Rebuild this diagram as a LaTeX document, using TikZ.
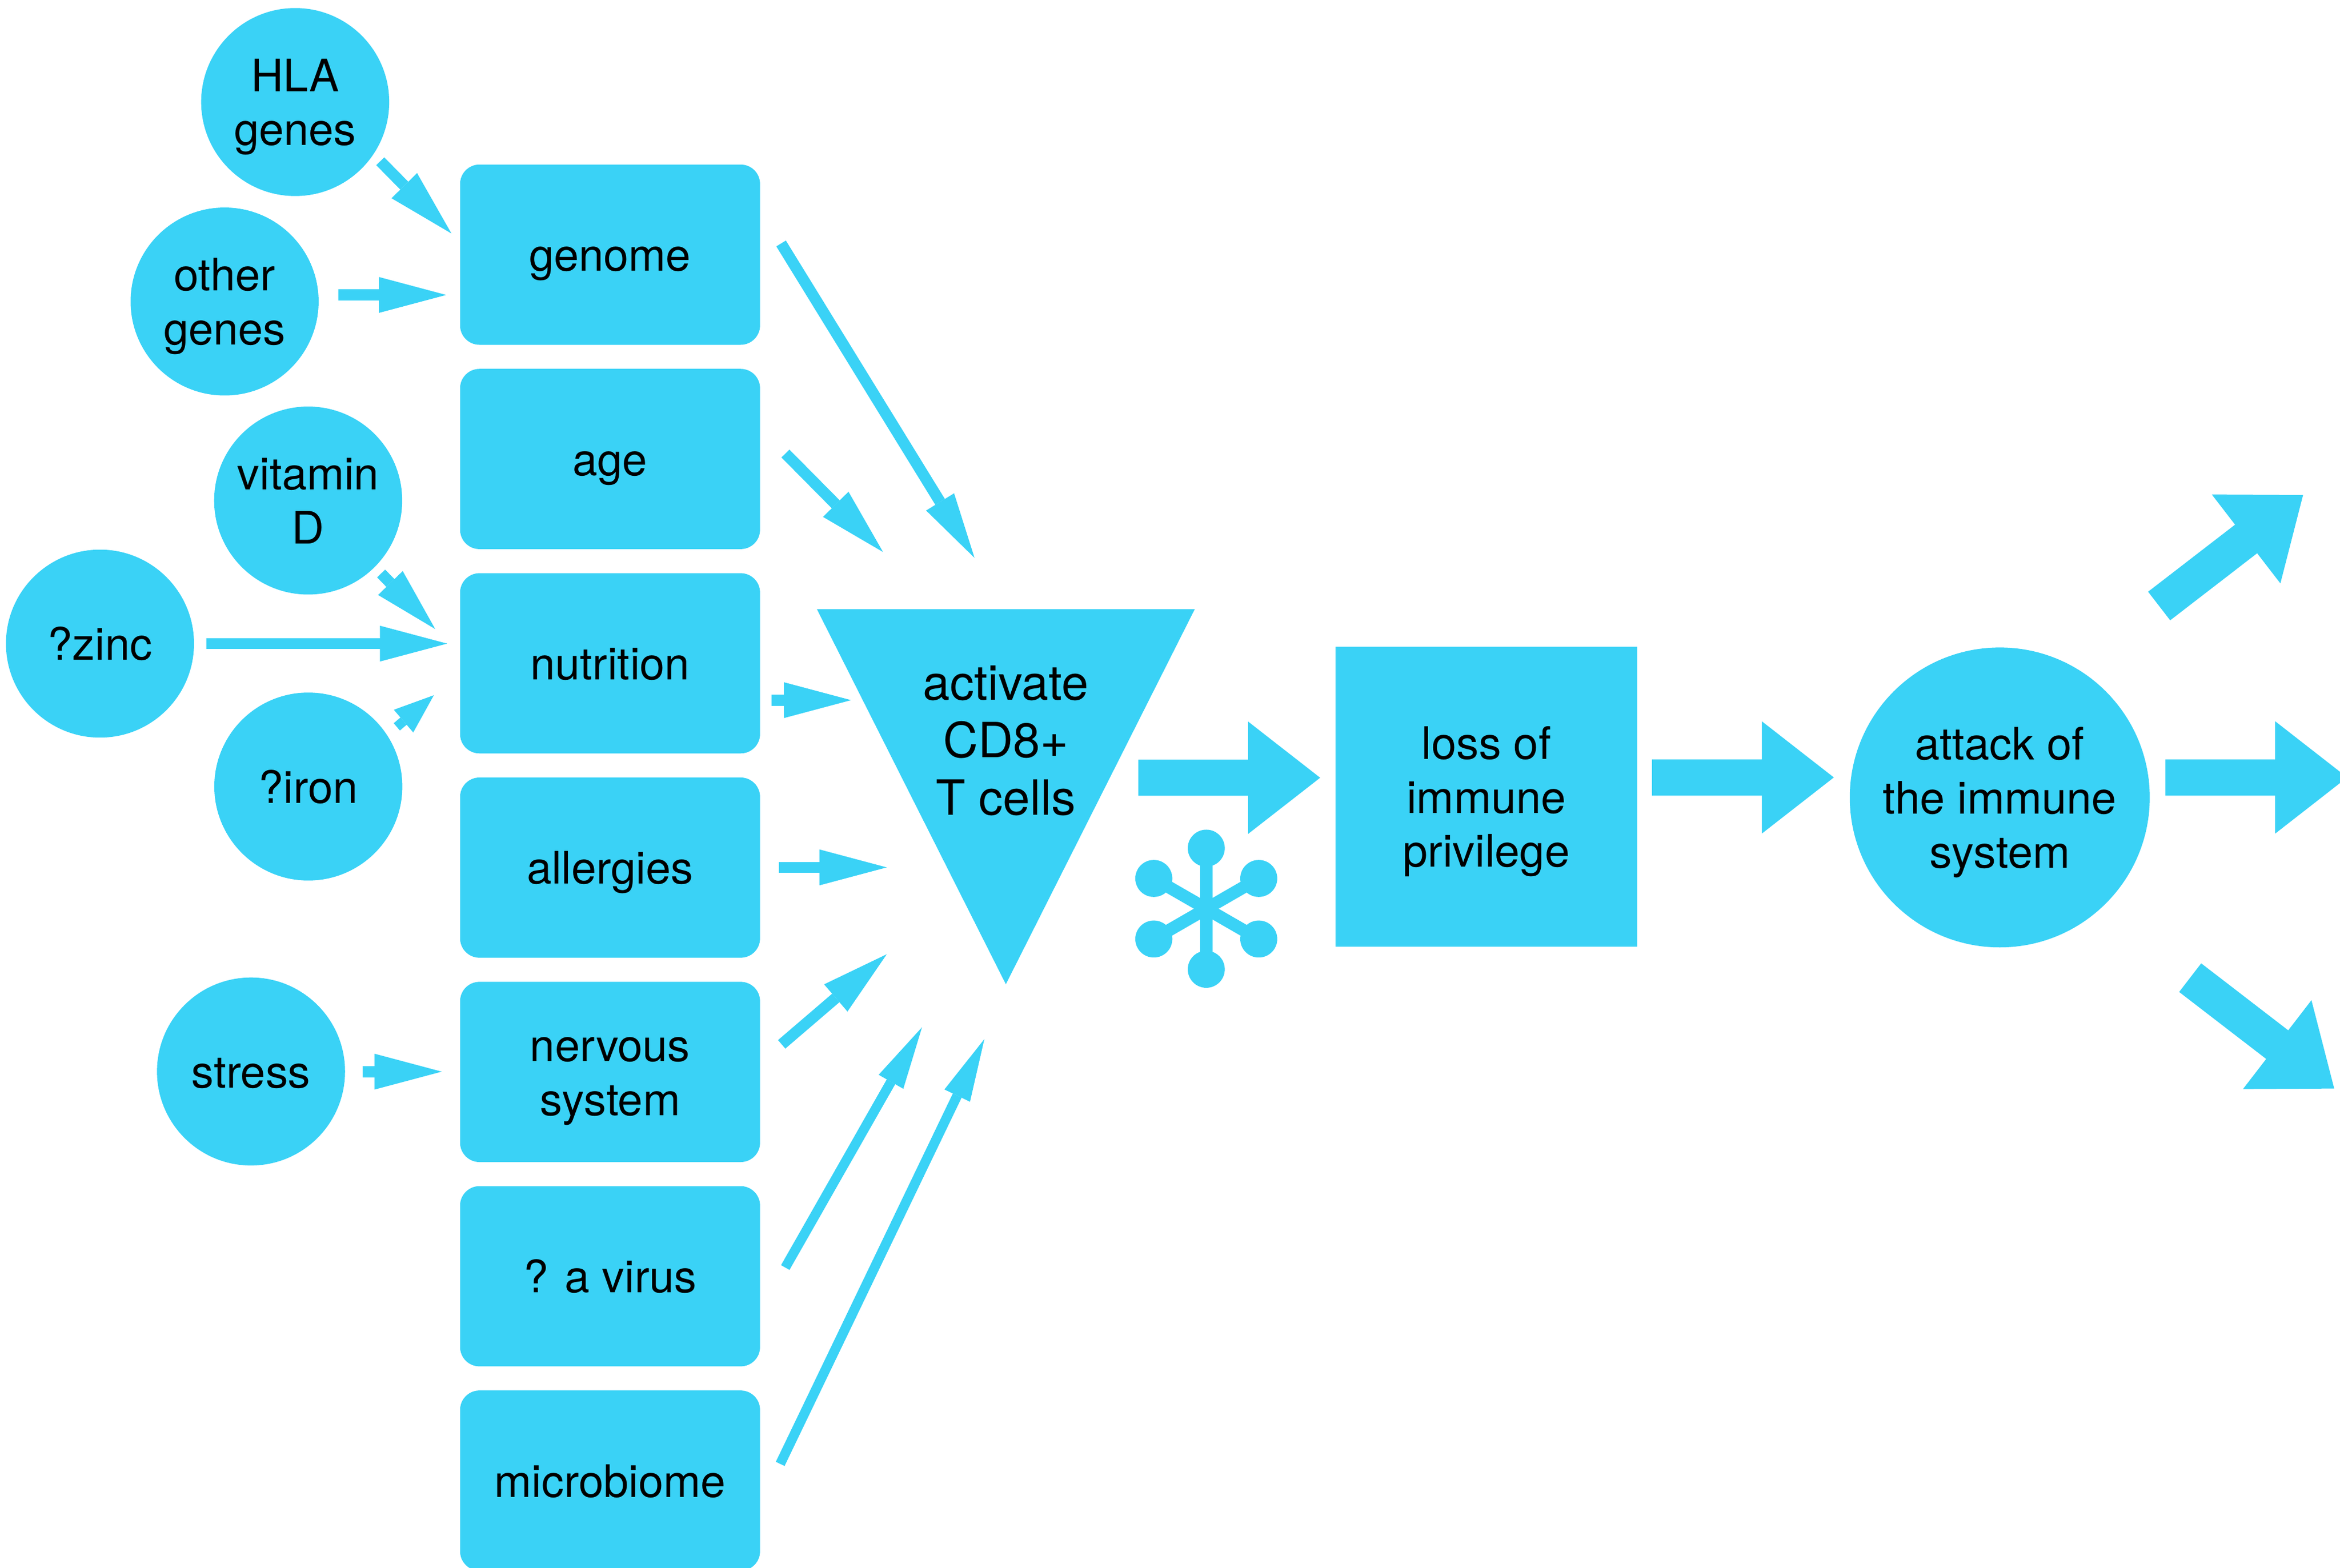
\documentclass[tikz,border=0pt]{standalone}
\usepackage{fontspec}
\setmainfont{TeX Gyre Heros}
\usetikzlibrary{arrows.meta}
\definecolor{cy}{RGB}{58,210,246}
\newcommand\ml[1]{\vbox{\halign{\hfil##\hfil\cr#1\crcr}}}
\newcommand\fatarrow[3]{\fill[cy, shift={(#1,#2)}, rotate=#3] (0,-12.1)--(73.6,-12.1)--(73.6,-37.6)--(121.8,0)--(73.6,37.6)--(73.6,12.1)--(0,12.1)--cycle;}
\begin{document}
\begin{tikzpicture}[x=1pt,y=-1pt,
  every node/.style={inner sep=0pt, outer sep=0pt, text=black},
  txt/.style={font=\fontsize{30pt}{36.2pt}\selectfont, text depth=0pt},
  one/.style={txt, text height=22pt},
  two/.style={txt, text height=58.2pt},
  three/.style={txt, text height=94.4pt},
  tritxt/.style={font=\fontsize{32.5pt}{38.4pt}\selectfont, text depth=0pt, text height=100.1pt},
  ball/.style={circle, fill=cy, minimum size=126pt},
  stepbox/.style={rectangle, rounded corners=13pt, fill=cy, minimum width=201pt, minimum height=120.8pt},
  sarrow/.style={draw=cy, line width=7.5pt, -{Triangle[length=45pt,width=24pt,line width=0pt]}},
  thinarrow/.style={draw=cy, line width=6.5pt, -{Triangle[length=42pt,width=19pt,line width=0pt]}}]
\useasboundingbox (0,0) rectangle (1568,1051);
\fill[white] (0,0) rectangle (1568,1051);
\clip (0,0) rectangle (1568,1051);

% left circles
\node[ball, two] (hla) at (197.8,68.4) {\ml{HLA\cr genes}};
\node[ball, two] (oth) at (150.5,202.1) {\ml{other\cr genes}};
\node[ball, two] (vit) at (206.5,335.5) {\ml{vitamin\cr D}};
\node[ball, one] (zinc) at (67,431.4) {?zinc};
\node[ball, one] (iron) at (206.6,527.2) {?iron};
\node[ball, one] (stress) at (168.2,718.2) {stress};

% boxes
\node[stepbox, one] (genome) at (408.8,170.7) {genome};
\node[stepbox, one] (age) at (408.8,307.65) {age};
\node[stepbox, one] (nutr) at (408.8,444.6) {nutrition};
\node[stepbox, one] (allerg) at (408.8,581.55) {allergies};
\node[stepbox, two] (nerv) at (408.8,718.5) {\ml{nervous\cr system}};
\node[stepbox, one] (virus) at (408.8,855.45) {? a virus};
\node[stepbox, one] (micro) at (408.8,992.4) {microbiome};

% triangle
\coordinate (tl) at (547.4,408.3);
\coordinate (tr) at (800.6,408.3);
\coordinate (tb) at (674,659.7);
\fill[cy] (tl) -- (tr) -- (tb) -- cycle;
\node[tritxt] (act) at (674,496.05) {\ml{activate\cr CD8+\cr T cells}};

% loss square and attack circle
\node[rectangle, fill=cy, minimum width=202pt, minimum height=201.4pt, three] (loss) at (996,534) {\ml{loss of\cr immune\cr privilege}};
\node[circle, fill=cy, minimum size=201pt, three] (att) at (1340,534.5) {\ml{attack of\cr the immune\cr system}};

% fat arrows
\fatarrow{762.8}{521.3}{0}
\fatarrow{1107}{521.1}{0}
\fatarrow{1451}{521.1}{0}
\fatarrow{1446.8}{406.2}{37.65}
\fatarrow{1467.6}{655.3}{-37.6}

% molecule icon
\coordinate (mol) at (808.3,609.1);
\foreach \a in {90,30,-30,-90,-150,150} {
  \draw[cy, line width=8.3pt] (mol) -- ++(\a:40.6);
  \fill[cy] (mol) ++(\a:40.6) circle[radius=12.4];
}

% small arrows
\coordinate (s1) at (254.8,108.1);  \coordinate (e1) at (302.5,156.5);
\coordinate (s2) at (226.9,197.7);  \coordinate (e2) at (299,197.7);
\coordinate (s3) at (523.4,163.2);  \coordinate (e3) at (653,373.9);
\coordinate (s4) at (526.3,304);    \coordinate (e4) at (591.7,370);
\coordinate (s5) at (255.4,384.4);  \coordinate (e5) at (291.6,421.6);
\coordinate (s6) at (138.3,431.4);  \coordinate (e6) at (299.6,431.4);
\coordinate (s7) at (265.9,487.2);  \coordinate (e7) at (290.7,466);
\coordinate (s8) at (516.9,469.3);  \coordinate (e8) at (570.3,469.3);
\coordinate (s9) at (521.9,581.4);  \coordinate (e9) at (594.2,581.4);
\coordinate (s10) at (523.8,700);   \coordinate (e10) at (594.2,639.6);
\coordinate (s11) at (526.2,849.6); \coordinate (e11) at (617.8,688.6);
\coordinate (s12) at (522.8,981.2); \coordinate (e12) at (659.6,696.5);
\coordinate (s13) at (242.9,718.3); \coordinate (e13) at (296,718.3);

\draw[sarrow] (s1) -- (e1);
\draw[sarrow] (s2) -- (e2);
\draw[sarrow, -{Triangle[length=44pt,width=22pt,line width=0pt]}] (s3) -- (e3);
\draw[sarrow] (s4) -- (e4);
\draw[sarrow, -{Triangle[length=43pt,width=23pt,line width=0pt]}] (s5) -- (e5);
\draw[sarrow] (s6) -- (e6);
\draw[sarrow, line width=6.4pt, -{Triangle[length=26.7pt,width=20pt,line width=0pt]}] (s7) -- (e7);
\draw[sarrow] (s8) -- (e8);
\draw[sarrow] (s9) -- (e9);
\draw[sarrow] (s10) -- (e10);
\draw[thinarrow] (s11) -- (e11);
\draw[thinarrow] (s12) -- (e12);
\draw[sarrow] (s13) -- (e13);
\end{tikzpicture}
\end{document}
